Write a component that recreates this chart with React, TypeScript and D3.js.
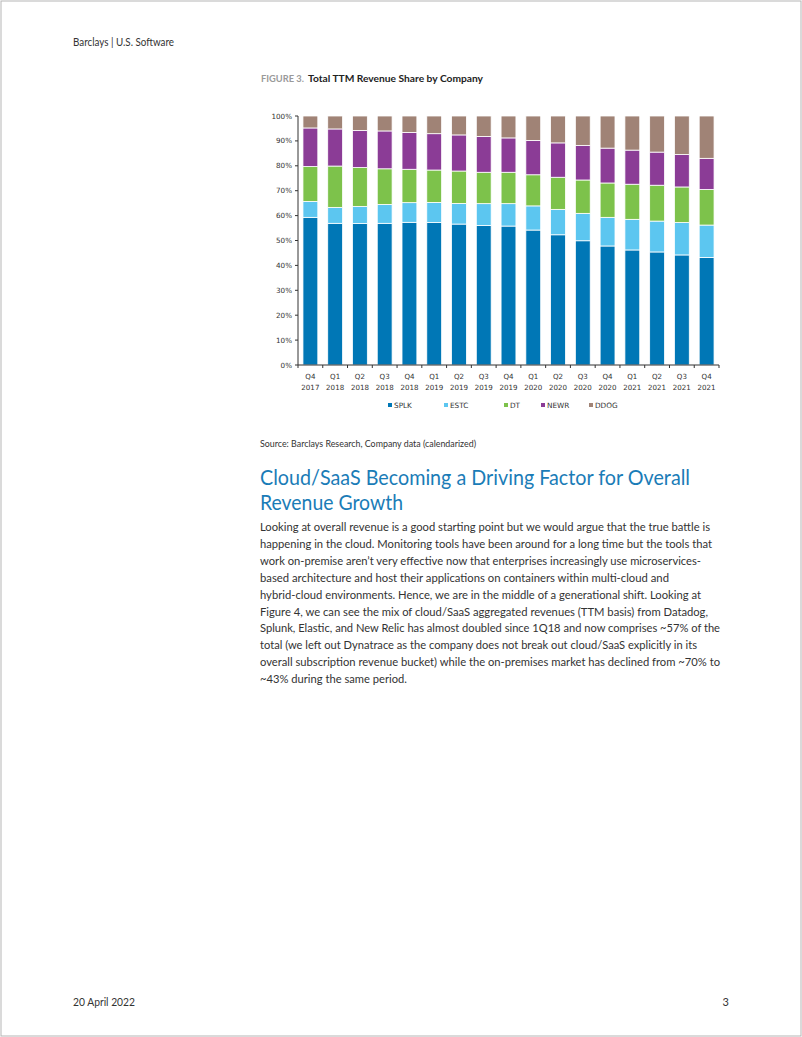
import React from "react";
import * as d3 from "d3";

const quarters = ["Q4","Q1","Q2","Q3","Q4","Q1","Q2","Q3","Q4","Q1","Q2","Q3","Q4","Q1","Q2","Q3","Q4"];
const years = ["2017","2018","2018","2018","2018","2019","2019","2019","2019","2020","2020","2020","2020","2021","2021","2021","2021"];
const categories = quarters.map((q, i) => `${q} ${years[i]}`);

const SPLK = [59.3,56.9,56.8,56.9,57.3,57.2,56.6,56.0,55.8,54.2,52.3,49.9,47.8,46.2,45.4,44.2,43.2];
const ESTC = [6.4,6.4,6.9,7.6,7.9,8.1,8.3,8.8,9.0,9.7,10.2,11.0,11.5,12.3,12.4,13.0,13.0];
const DT = [14.0,16.6,15.6,14.3,13.4,13.0,13.0,12.6,12.6,12.5,12.9,13.4,13.8,14.1,14.4,14.3,14.3];
const NEWR = [15.5,14.9,14.9,15.2,14.8,14.6,14.5,14.4,13.8,13.8,13.8,13.9,14.0,13.7,13.3,13.0,12.5];
const DDOG = [4.8,5.2,5.8,6.0,6.6,7.1,7.6,8.2,8.8,9.8,10.8,11.8,12.9,13.7,14.5,15.5,17.0];

const seriesNames = ["SPLK","ESTC","DT","NEWR","DDOG"];
const seriesValues = [SPLK, ESTC, DT, NEWR, DDOG];
const seriesColors = ["#0077b6","#5cc6f0","#7dc24b","#8b3c96","#a08376"];
const yTicks = [0,10,20,30,40,50,60,70,80,90,100];

const paragraph = [
  "Looking at overall revenue is a good starting point but we would argue that the true battle is",
  "happening in the cloud. Monitoring tools have been around for a long time but the tools that",
  "work on-premise aren\u2019t very effective now that enterprises increasingly use microservices-",
  "based architecture and host their applications on containers within multi-cloud and",
  "hybrid-cloud environments. Hence, we are in the middle of a generational shift. Looking at",
  "Figure 4, we can see the mix of cloud/SaaS aggregated revenues (TTM basis) from Datadog,",
  "Splunk, Elastic, and New Relic has almost doubled since 1Q18 and now comprises ~57% of the",
  "total (we left out Dynatrace as the company does not break out cloud/SaaS explicitly in its",
  "overall subscription revenue bucket) while the on-premises market has declined from ~70% to",
  "~43% during the same period.",
];
const paragraphWidths = [450, 452, 441, 409, 441, 448, 460, 437, 460, 147];

export default function App() {
  const left = 298, right = 719, top = 116, bottom = 365;
  const x = d3.scaleBand<string>().domain(categories).range([left, right]).paddingInner(0.4).paddingOuter(0.2);
  const y = d3.scaleLinear().domain([0, 100]).range([bottom, top]);

  const table = categories.map((c, i) => {
    const row: any = { cat: c };
    seriesNames.forEach((s, k) => (row[s] = seriesValues[k][i]));
    return row;
  });
  const stacked = d3.stack().keys(seriesNames)(table);

  const textFont = "Lato, 'Open Sans', sans-serif";
  const chartFont = "'DejaVu Sans', Verdana, sans-serif";
  const legendX = [388, 444, 504, 541, 589];

  return (
    <svg width={802} height={1037} style={{ position: "absolute", left: 0, top: 0, background: "#fff" }}>
      <rect x={1} y={1} width={800} height={1035} fill="#fff" stroke="#b5b5b5" strokeWidth={1} />
      <text x={73} y={46} fontFamily={textFont} fontSize={11} fill="#333" textLength={101} lengthAdjust="spacingAndGlyphs">Barclays | U.S. Software</text>

      <text x={261} y={82} fontFamily={textFont} fontSize={9.5} fontWeight="bold" fill="#9a9a9a" textLength={43} lengthAdjust="spacingAndGlyphs">FIGURE 3.</text>
      <text x={308} y={82} fontFamily={textFont} fontSize={9.5} fontWeight="bold" fill="#222" textLength={175} lengthAdjust="spacingAndGlyphs">Total TTM Revenue Share by Company</text>

      {stacked.map((layer, k) => (
        <g key={seriesNames[k]} fill={seriesColors[k]}>
          {layer.map((d, i) => (
            <rect key={i} x={x(categories[i])} y={y(d[1])} width={x.bandwidth()} height={y(d[0]) - y(d[1])} stroke="#fff" strokeWidth={0.8} />
          ))}
        </g>
      ))}

      <line x1={left} x2={left} y1={top} y2={bottom} stroke="#333" strokeWidth={1} />
      <line x1={left} x2={right} y1={bottom} y2={bottom} stroke="#333" strokeWidth={1} />
      {yTicks.map((t) => (
        <g key={t}>
          <line x1={left - 3} x2={left} y1={y(t)} y2={y(t)} stroke="#333" />
          <text x={left - 6} y={y(t)} dy="0.35em" textAnchor="end" fontFamily={chartFont} fontSize={7.2} fill="#333">{t}%</text>
        </g>
      ))}
      {d3.range(categories.length + 1).map((i) => {
        const px = Math.min(left + x.step() * i, right);
        return <line key={i} x1={px} x2={px} y1={bottom} y2={bottom + 3} stroke="#333" />;
      })}
      {categories.map((c, i) => (
        <g key={c} fontFamily={chartFont} fontSize={7.1} fill="#333" textAnchor="middle">
          <text x={(x(c) as number) + x.bandwidth() / 2} y={379}>{quarters[i]}</text>
          <text x={(x(c) as number) + x.bandwidth() / 2} y={390}>{years[i]}</text>
        </g>
      ))}

      {seriesNames.map((s, k) => (
        <g key={s}>
          <rect x={legendX[k]} y={403} width={4} height={4} fill={seriesColors[k]} />
          <text x={legendX[k] + 6} y={408} fontFamily={chartFont} fontSize={7.3} fill="#333">{s}</text>
        </g>
      ))}

      <text x={260} y={447} fontFamily={textFont} fontSize={9} fill="#333" textLength={216} lengthAdjust="spacingAndGlyphs">Source: Barclays Research, Company data (calendarized)</text>

      <text x={260} y={485} fontFamily={textFont} fontSize={22} fill="#1a7cb7" textLength={430} lengthAdjust="spacingAndGlyphs">Cloud/SaaS Becoming a Driving Factor for Overall</text>
      <text x={260} y={510} fontFamily={textFont} fontSize={22} fill="#1a7cb7" textLength={143} lengthAdjust="spacingAndGlyphs">Revenue Growth</text>

      {paragraph.map((line, i) => (
        <text key={i} x={260} y={531 + i * 16.9} fontFamily={textFont} fontSize={12.3} fill="#333" textLength={paragraphWidths[i]} lengthAdjust="spacingAndGlyphs">{line}</text>
      ))}

      <text x={73} y={1006} fontFamily={textFont} fontSize={11} fill="#333" textLength={62} lengthAdjust="spacingAndGlyphs">20 April 2022</text>
      <text x={729} y={1006} textAnchor="end" fontFamily={textFont} fontSize={11} fill="#333">3</text>
    </svg>
  );
}
